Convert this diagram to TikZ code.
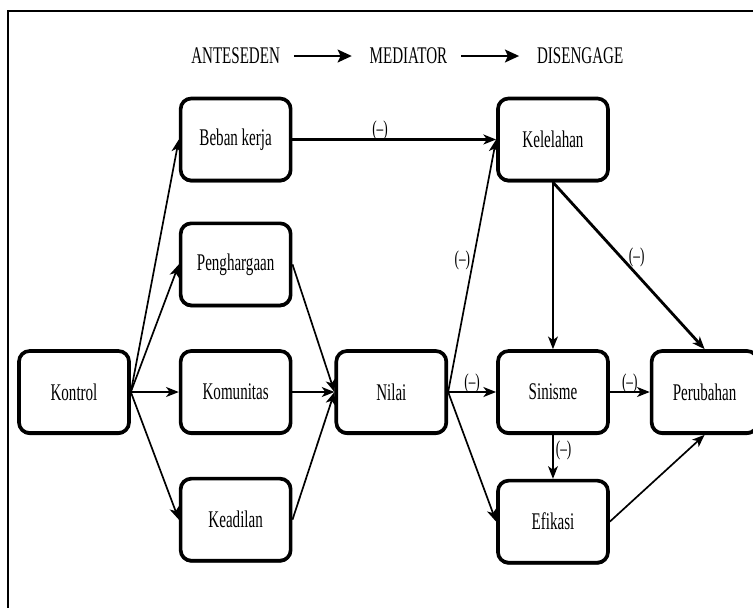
\documentclass[tikz,border=0pt]{standalone}
\usepackage{fontspec}
\setmainfont[FakeStretch=0.63]{Liberation Serif}
\usetikzlibrary{positioning, arrows.meta, shadows}

\begin{document}
\begin{tikzpicture}[
  font=\fontsize{17}{20}\selectfont,
  box/.style={
    rounded corners=7.5pt, draw=black, line width=2.6pt,
    fill=white, align=center,
    minimum width=2.75cm, minimum height=2.05cm, inner sep=4pt,
    drop shadow={shadow xshift=0pt, shadow yshift=-0.05cm, opacity=1, fill=black}
  },
  head/.style={inner sep=4pt},
  headflow/.style={-{Stealth[length=10pt, width=9pt, inset=2pt]}, line width=2.1pt,
    shorten <=0.2cm, shorten >=0.3cm},
  flow/.style={-{Stealth[length=9pt, width=7pt, inset=2.5pt]}, line width=1.2pt},
  main/.style={flow, line width=2pt},
  lbl/.style={inner sep=1.5pt, font=\fontsize{15}{17}\selectfont},
]

% Page and frame (left and top edge only)
\useasboundingbox (0,0) rectangle (18.825,-15.175);
\draw[line width=1.4pt] (0.2,-15.3) -- (0.2,-0.275) -- (19,-0.275);

% Header: stages
\node[head] (ante) at (5.89,-1.4) {ANTESEDEN};
\node[head, right=1.95cm of ante] (medi) {MEDIATOR};
\node[head, right=1.95cm of medi] (dise) {DISENGAGE};
\draw[headflow] (ante) -- (medi);
\draw[headflow] (medi) -- (dise);

% Antecedents
\node[box] (kontrol) at (1.85,-9.8) {Kontrol};
\node[box, right=1.2cm of kontrol] (komunitas) {Komunitas};
\node[box, above=1.05cm of komunitas] (harga) {Penghargaan};
\node[box, above=0.98cm of harga] (beban) {Beban kerja};
\node[box, below=1.05cm of komunitas] (adil) {Keadilan};

% Mediator and outcomes
\node[box, right=1.05cm of komunitas] (nilai) {Nilai};
\node[box, right=1.2cm of nilai] (sinisme) {Sinisme};
\node[box, minimum width=2.65cm, right=1.0cm of sinisme] (ubah) {Perubahan};
\node[box, below=1.1cm of sinisme] (efikasi) {Efikasi};
\node[box] (lelah) at (sinisme |- beban) {Kelelahan};

% Kontrol fans out
\draw[flow] (kontrol.east) -- (beban.west);
\draw[flow] (kontrol.east) -- (harga.west);
\draw[main] (kontrol.east) -- (komunitas.west);
\draw[flow] (kontrol.east) -- (adil.west);

% Into Nilai
\draw[flow] (harga.east) -- (nilai.west);
\draw[main] (komunitas) -- (nilai);
\draw[flow] (adil.east) -- (nilai.west);

% Workload straight to exhaustion
\draw[main] (beban) -- node[lbl, pos=0.43, above=-3pt] {(--)} (lelah);

% Out of Nilai
\draw[flow] (nilai.east) -- node[lbl, pos=0.52, left] {(--)} (lelah.west);
\draw[main] (nilai) -- node[lbl, above=-3pt] {(--)} (sinisme);
\draw[flow] (nilai.east) -- (efikasi.west);

% Disengage chain
\draw[flow] (lelah) -- (sinisme);
\draw[main] (lelah.south) -- node[lbl, pos=0.45, right=3pt] {(--)} (ubah.north);
\draw[main] (sinisme) -- node[lbl, above=-3pt] {(--)} (ubah);
\draw[flow] (sinisme) -- node[lbl, pos=0.35, right] {(--)} (efikasi);
\draw[flow] (efikasi.east) -- (ubah.south);
\end{tikzpicture}
\end{document}
